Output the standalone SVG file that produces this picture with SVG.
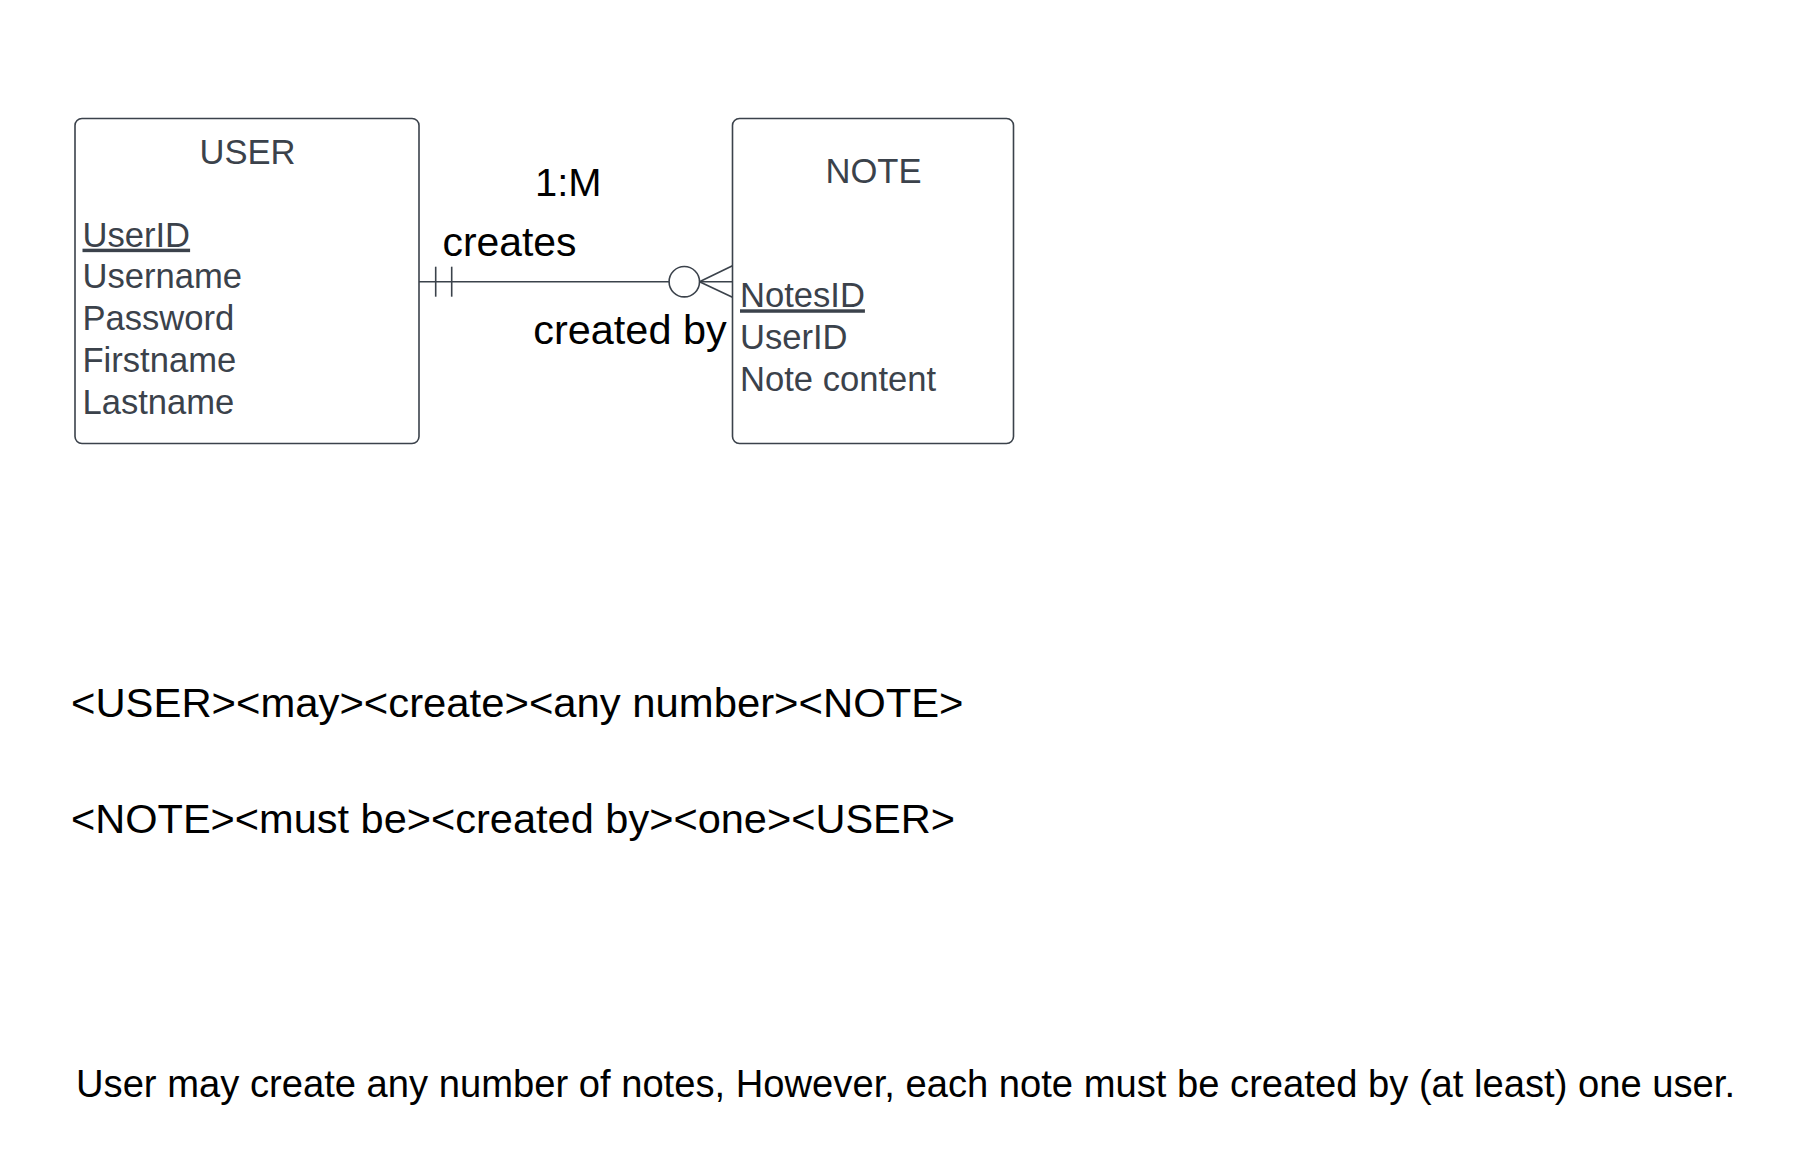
<svg xmlns="http://www.w3.org/2000/svg" width="1818" height="1170" viewBox="0 0 1818 1170">
<style>
.bg{fill:#ffffff}
.box{fill:#ffffff;stroke:#3b424b;stroke-width:1.6}
.ln{fill:none;stroke:#3b424b;stroke-width:1.6}
.et{font-family:"Liberation Sans",Arial,sans-serif;font-size:34.6px;fill:#3b424b}
.title{text-anchor:middle}
.pk{text-decoration:underline}
.lbl{font-family:"Liberation Sans",Arial,sans-serif;fill:#000000}
</style>
<rect class="bg" x="0" y="0" width="1818" height="1170"/>
<g id="user">
<rect class="box" x="75" y="118.5" width="344" height="325" rx="7" ry="7"/>
<text class="et title" x="247.5" y="164">USER</text>
<text class="et pk" x="82.5" y="246.7">UserID</text>
<text class="et" x="82.5" y="288.4">Username</text>
<text class="et" x="82.5" y="330.1">Password</text>
<text class="et" x="82.5" y="371.8">Firstname</text>
<text class="et" x="82.5" y="413.5">Lastname</text>
</g>
<g id="note">
<rect class="box" x="732.5" y="118.5" width="281" height="325" rx="7" ry="7"/>
<text class="et title" x="873.5" y="182.7">NOTE</text>
<text class="et pk" x="740" y="307.3">NotesID</text>
<text class="et" x="740" y="349">UserID</text>
<text class="et" x="740" y="390.7">Note content</text>
</g>
<g id="connectors">
<line class="ln" x1="419" y1="281.7" x2="669" y2="281.7"/>
<line class="ln" x1="435.7" y1="266.7" x2="435.7" y2="296.7"/>
<line class="ln" x1="451.7" y1="266.7" x2="451.7" y2="296.7"/>
<circle class="ln" cx="684.3" cy="281.7" r="15.2"/>
<line class="ln" x1="699.5" y1="281.7" x2="732.5" y2="281.7"/>
<line class="ln" x1="699.5" y1="281.7" x2="732.5" y2="265.7"/>
<line class="ln" x1="699.5" y1="281.7" x2="732.5" y2="297.2"/>
</g>
<g id="labels">
<text class="lbl" x="535" y="195.5" font-size="39" textLength="66.5" lengthAdjust="spacingAndGlyphs">1:M</text>
<text class="lbl" x="442.5" y="256" font-size="41" textLength="134" lengthAdjust="spacingAndGlyphs">creates</text>
<text class="lbl" x="533.3" y="343.5" font-size="41" textLength="193.4" lengthAdjust="spacingAndGlyphs">created by</text>
<text class="lbl" x="71" y="717" font-size="40" textLength="892.5" lengthAdjust="spacingAndGlyphs">&lt;USER&gt;&lt;may&gt;&lt;create&gt;&lt;any number&gt;&lt;NOTE&gt;</text>
<text class="lbl" x="71" y="833" font-size="40" textLength="884" lengthAdjust="spacingAndGlyphs">&lt;NOTE&gt;&lt;must be&gt;&lt;created by&gt;&lt;one&gt;&lt;USER&gt;</text>
<text class="lbl" x="76" y="1097" font-size="38" textLength="1659" lengthAdjust="spacingAndGlyphs">User may create any number of notes, However, each note must be created by (at least) one user.</text>
</g>
</svg>
